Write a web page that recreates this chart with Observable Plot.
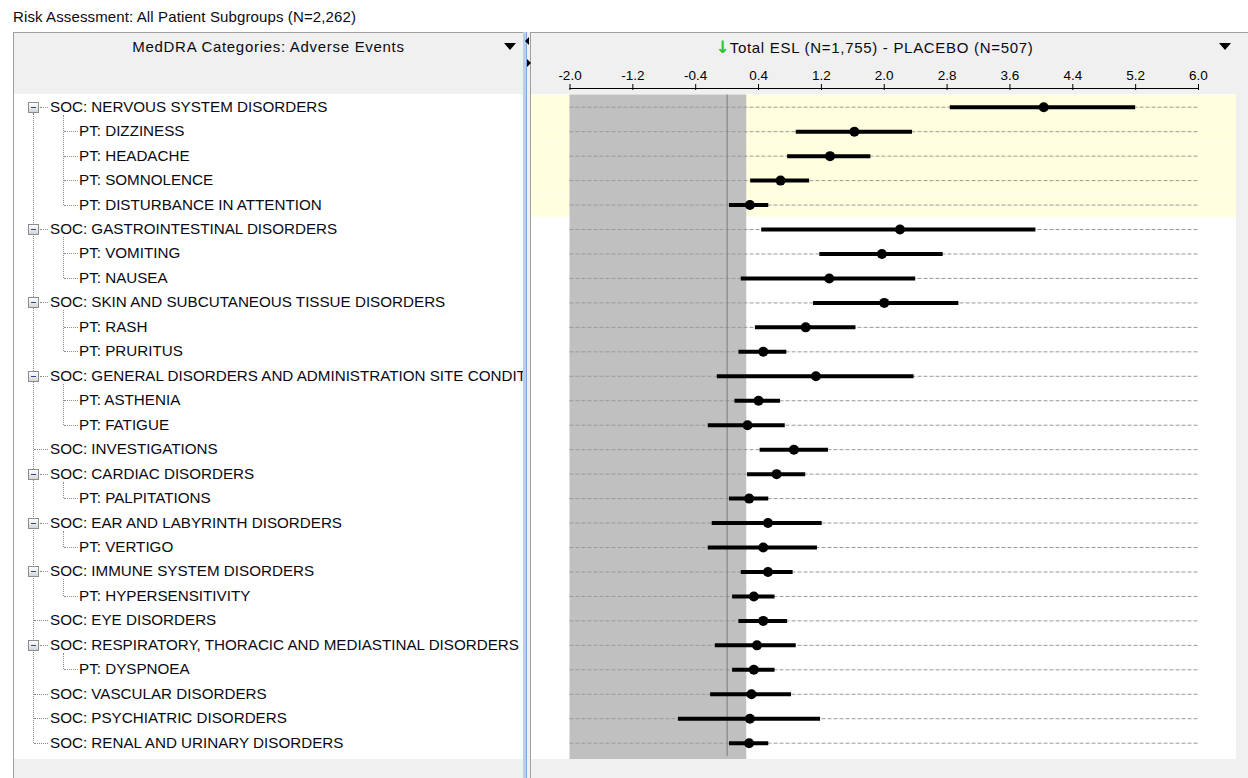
<!DOCTYPE html>
<html>
<head>
<meta charset="utf-8">
<script src="https://cdn.jsdelivr.net/npm/d3@7"></script>
<script src="https://cdn.jsdelivr.net/npm/@observablehq/plot@0.6"></script>
<style>
  body { margin: 0; background: #fff; font-family: "Liberation Sans", Arial, sans-serif; color: #0a0a14; }
  #page { position: relative; width: 1248px; height: 778px; overflow: hidden; background: #fff; }
  .abs { position: absolute; }
  #title { left: 13px; top: 7px; font-size: 15px; letter-spacing: 0.12px; line-height: 20px; white-space: nowrap; }
  .hdr { background: #f0f0f0; }
  .tri { width: 0; height: 0; border-left: 6px solid transparent; border-right: 6px solid transparent; border-top: 7px solid #000; }
  .hdrText { font-size: 15px; letter-spacing: 0.7px; line-height: 20px; white-space: nowrap; text-align: center; }
  #treeClip { left: 14px; top: 94px; width: 509px; height: 665px; overflow: hidden; background: #fff; }
  .lbl { position: absolute; font-size: 15.2px; white-space: nowrap; line-height: 20px; }
  .hdot { position: absolute; height: 0; border-top: 1px dotted #8a8a8a; }
  .vdot { position: absolute; width: 0; border-left: 1px dotted #8a8a8a; }
  .box { position: absolute; width: 9px; height: 9px; border: 1px solid #8c8c8c; background: linear-gradient(#ffffff, #d6d6d6); }
  .box::after { content: ""; position: absolute; left: 2px; top: 4px; width: 5px; height: 1px; background: #2a4a8f; }
  #chart { left: 531px; top: 33px; width: 705px; height: 726px; }
</style>
</head>
<body>
<div id="page">
  <div id="title" class="abs">Risk Assessment: All Patient Subgroups (N=2,262)</div>

  <!-- left panel frame -->
  <div class="abs" style="left:13px;top:32px;width:1px;height:760px;background:#a0a0a0"></div>
  <div class="abs" style="left:13px;top:32px;width:512px;height:1px;background:#a0a0a0"></div>
  <div class="abs hdr" style="left:14px;top:33px;width:509px;height:61px"></div>
  <div class="abs hdrText" style="left:14px;top:37px;width:509px">MedDRA Categories: Adverse Events</div>
  <div class="abs tri" style="left:504px;top:43px"></div>
  <div class="abs hdr" style="left:14px;top:759px;width:509px;height:19px"></div>

  <!-- splitter between panels -->
  <div class="abs" style="left:523px;top:32px;width:4px;height:746px;background:#b7d0ee"></div>
  <div class="abs" style="left:526px;top:32px;width:1px;height:746px;background:#7fa6d8"></div>
  <div class="abs" style="left:527px;top:32px;width:3px;height:746px;background:#f0f0f0"></div>
  <div class="abs" style="left:530px;top:32px;width:1px;height:746px;background:#a0a0a0"></div>
  <div class="abs" style="left:525px;top:37px;width:0;height:0;border-top:4px solid transparent;border-bottom:4px solid transparent;border-right:4px solid #000"></div>
  <div class="abs" style="left:527px;top:59px;width:0;height:0;border-top:4px solid transparent;border-bottom:4px solid transparent;border-left:4px solid #000"></div>

  <!-- right panel frame -->
  <div class="abs" style="left:530px;top:32px;width:718px;height:1px;background:#a0a0a0"></div>
  <div class="abs hdr" style="left:531px;top:33px;width:717px;height:61px"></div>
  <div class="abs hdr" style="left:1236px;top:94px;width:12px;height:684px"></div>
  <div class="abs" style="left:531px;top:94px;width:705px;height:665px;background:#fff"></div>
  <div class="abs hdr" style="left:531px;top:759px;width:717px;height:19px"></div>
  <div class="abs hdrText" style="left:522px;top:37px;width:705px">
    <span style="color:#2fc12f;font-family:'DejaVu Sans';font-weight:bold;font-size:17px;letter-spacing:0">&#8595;</span>Total ESL (N=1,755) - PLACEBO (N=507)
  </div>
  <div class="abs tri" style="left:1219px;top:43px"></div>

  <div id="treeClip" class="abs"></div>
  <div id="chart" class="abs"></div>
</div>

<script>
// Adverse event rows: MedDRA system organ classes (SOC) and preferred terms (PT)
const labels = [
  "SOC: NERVOUS SYSTEM DISORDERS",
  "PT: DIZZINESS",
  "PT: HEADACHE",
  "PT: SOMNOLENCE",
  "PT: DISTURBANCE IN ATTENTION",
  "SOC: GASTROINTESTINAL DISORDERS",
  "PT: VOMITING",
  "PT: NAUSEA",
  "SOC: SKIN AND SUBCUTANEOUS TISSUE DISORDERS",
  "PT: RASH",
  "PT: PRURITUS",
  "SOC: GENERAL DISORDERS AND ADMINISTRATION SITE CONDITIONS",
  "PT: ASTHENIA",
  "PT: FATIGUE",
  "SOC: INVESTIGATIONS",
  "SOC: CARDIAC DISORDERS",
  "PT: PALPITATIONS",
  "SOC: EAR AND LABYRINTH DISORDERS",
  "PT: VERTIGO",
  "SOC: IMMUNE SYSTEM DISORDERS",
  "PT: HYPERSENSITIVITY",
  "SOC: EYE DISORDERS",
  "SOC: RESPIRATORY, THORACIC AND MEDIASTINAL DISORDERS",
  "PT: DYSPNOEA",
  "SOC: VASCULAR DISORDERS",
  "SOC: PSYCHIATRIC DISORDERS",
  "SOC: RENAL AND URINARY DISORDERS"
];
// 0 = system organ class, 1 = preferred term under the SOC above it
const levels = [0,1,1,1,1, 0,1,1, 0,1,1, 0,1,1, 0, 0,1, 0,1, 0,1, 0, 0,1, 0, 0, 0];

// Risk difference (Total ESL - placebo) with confidence limits
const estimate = [4.03, 1.62, 1.31, 0.68, 0.29, 2.20, 1.97, 1.30, 2.00, 1.00, 0.46, 1.13, 0.40, 0.26, 0.85, 0.63, 0.28, 0.52, 0.46, 0.52, 0.34, 0.46, 0.38, 0.34, 0.31, 0.29, 0.28];
const lower    = [2.84, 0.88, 0.77, 0.30, 0.03, 0.44, 1.18, 0.18, 1.10, 0.36, 0.15, -0.125, 0.10, -0.24, 0.42, 0.26, 0.03, -0.19, -0.24, 0.18, 0.07, 0.15, -0.15, 0.07, -0.21, -0.62, 0.03];
const upper    = [5.20, 2.36, 1.83, 1.05, 0.53, 3.93, 2.75, 2.40, 2.95, 1.64, 0.76, 2.38, 0.68, 0.74, 1.29, 1.00, 0.53, 1.21, 1.15, 0.84, 0.61, 0.77, 0.88, 0.61, 0.82, 1.19, 0.53];

// Axis ticks and the shaded "no meaningful difference" zone
const xTicks = [-2.0, -1.2, -0.4, 0.4, 1.2, 2.0, 2.8, 3.6, 4.4, 5.2, 6.0];
const shadedZone = [{lo: -2.0, hi: 0.25}];
// SOC group that is highlighted
const highlightedGroup = 0;

// Assemble rows, tagging each with its SOC group
let g = -1;
const rows = labels.map((label, i) => {
  if (levels[i] === 0) g++;
  return {label, level: levels[i], group: g, est: estimate[i], lo: lower[i], hi: upper[i]};
});

// Layout of the chart panel
const W = 705, H = 726;
const mTop = 55;                // axis line
const bodyTop = 61.5;           // first row starts here
const rowH = 24.46;
const xLeft = 38.5, xRight = 38;

const y = {type: "band", domain: labels, range: [bodyTop, bodyTop + rowH * labels.length], padding: 0, round: false, axis: null};

const chart = Plot.plot({
  width: W,
  height: H,
  marginTop: mTop,
  marginBottom: 0,
  marginLeft: xLeft,
  marginRight: xRight,
  style: {background: "transparent", fontFamily: "'Liberation Sans', Arial, sans-serif", fontSize: "13.5px", color: "#000", overflow: "visible"},
  x: {domain: [xTicks[0], xTicks[xTicks.length - 1]], axis: null},
  y,
  marks: [
    Plot.cell(rows.filter(d => d.group === highlightedGroup), {y: "label", fill: "#ffffe0", insetLeft: -xLeft, insetRight: -xRight}),
    Plot.barX(shadedZone, {x1: "lo", x2: "hi", fill: "#c0c0c0", insetTop: bodyTop - mTop}),
    Plot.ruleY(rows, {y: "label", stroke: "#9a9a9a", strokeDasharray: "4,2"}),
    Plot.ruleX([0], {stroke: "#7c7c7c", strokeWidth: 1, insetTop: bodyTop - mTop, insetBottom: 3}),
    Plot.ruleY(rows, {y: "label", x1: "lo", x2: "hi", stroke: "#000", strokeWidth: 4}),
    Plot.dot(rows, {x: "est", y: "label", r: 5, fill: "#000", stroke: "none"}),
    Plot.axisX(xTicks, {anchor: "top", tickFormat: d => d.toFixed(1), tickSize: 5, tickPadding: 4, label: null}),
    Plot.ruleX(xTicks, {stroke: "#000", insetBottom: H - mTop - 2}),
    Plot.frame({anchor: "top", stroke: "#000"})
  ]
});
document.getElementById("chart").appendChild(chart);

// Tree of labels on the left, aligned with the chart rows
const clip = document.getElementById("treeClip");
const ox = 14, oy = 94;
const rowY = i => 33 + bodyTop + (i + 0.5) * rowH - oy;   // row centre inside the clip box
function add(cls, css, text) {
  const el = document.createElement("div");
  el.className = cls;
  Object.assign(el.style, css);
  if (text) el.textContent = text;
  clip.appendChild(el);
  return el;
}
const trunkX = 33 - ox;
const lastRow = rows.length - 1;
// main trunk joining every SOC
add("vdot", {left: trunkX + "px", top: (rowY(0) + 6) + "px", height: (rowY(lastRow) - rowY(0) - 6) + "px"});
rows.forEach((r, i) => {
  const cy = Math.round(rowY(i));
  if (r.level === 0) {
    const hasKids = i + 1 < rows.length && rows[i + 1].level === 1;
    if (hasKids) {
      add("box", {left: (28 - ox) + "px", top: (cy - 5) + "px"});
      add("hdot", {left: (40 - ox) + "px", top: cy + "px", width: "8px"});
      // branch for the PTs below
      let j = i + 1;
      while (j + 1 < rows.length && rows[j + 1].level === 1) j++;
      add("vdot", {left: (63 - ox) + "px", top: (cy + 8) + "px", height: (Math.round(rowY(j)) - cy - 8) + "px"});
    } else {
      add("hdot", {left: (trunkX + 1) + "px", top: cy + "px", width: (48 - 34) + "px"});
    }
    add("lbl", {left: (50 - ox) + "px", top: (cy - 10) + "px"}, r.label);
  } else {
    add("hdot", {left: (64 - ox) + "px", top: cy + "px", width: "14px"});
    add("lbl", {left: (79 - ox) + "px", top: (cy - 10) + "px"}, r.label);
  }
});
</script>
</body>
</html>
